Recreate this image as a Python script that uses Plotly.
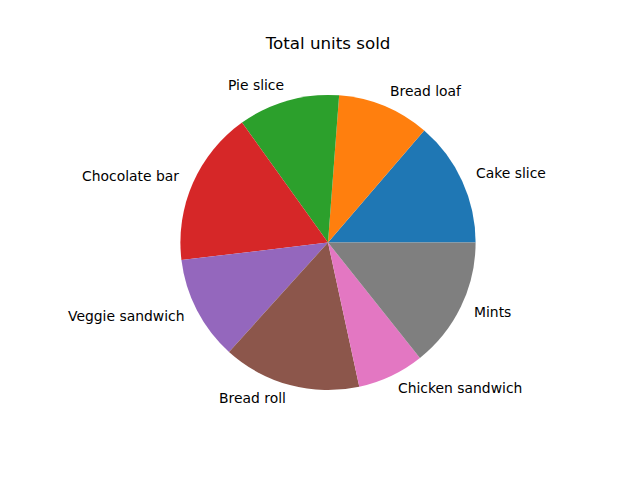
import math
import plotly.graph_objects as go

labels = ["Cake slice", "Bread loaf", "Pie slice", "Chocolate bar",
          "Veggie sandwich", "Bread roll", "Chicken sandwich", "Mints"]
units = [137, 101, 111, 170, 114, 151, 73, 143]
colors = ["#1f77b4", "#ff7f0e", "#2ca02c", "#d62728",
          "#9467bd", "#8c564b", "#e377c2", "#7f7f7f"]

W, H = 640, 480
ML, MR, MT, MB = 80, 64, 58, 52.8
PW, PH = W - ML - MR, H - MT - MB
DOM_Y = (0.1, 0.9)
R_PX = (DOM_Y[1] - DOM_Y[0]) * PH / 2  # pie radius in px (height-limited)

total = sum(units)
# first wedge starts at 3 o'clock and wedges go counter-clockwise
first_share = 360.0 * units[0] / total

fig = go.Figure(go.Pie(
    labels=labels, values=units, sort=False,
    direction="counterclockwise", rotation=90 - first_share,
    marker=dict(colors=colors, line=dict(width=0)),
    textinfo="none",
    showlegend=False, hoverinfo="label+value",
    domain=dict(x=[0, 1], y=list(DOM_Y)),
    automargin=False,
))

# matplotlib-style labels at 1.1 x radius, on the wedge's mid-angle
start = 0.0
for lab, v in zip(labels, units):
    span = 360.0 * v / total
    mid = math.radians(start + span / 2)
    start += span
    dx = 1.1 * R_PX * math.cos(mid)
    dy = 1.1 * R_PX * math.sin(mid)
    right = dx > 0
    fig.add_annotation(
        x=0.5 + dx / PW, y=0.5 + dy / PH, xref="paper", yref="paper",
        text=lab, showarrow=False,
        xanchor="left" if right else "right", yanchor="middle",
        xshift=-2 if right else 2, yshift=1.5,
        font=dict(family="DejaVu Sans", size=13.9, color="black"),
    )

fig.update_layout(
    width=W, height=H,
    margin=dict(l=ML, r=MR, t=MT, b=MB),
    paper_bgcolor="white", plot_bgcolor="white",
    title=dict(text="Total units sold", x=328/640, xanchor="center",
               y=1 - 43/480, yanchor="middle",
               font=dict(family="DejaVu Sans", size=16.7, color="black")),
)

fig.write_html("out.html")
